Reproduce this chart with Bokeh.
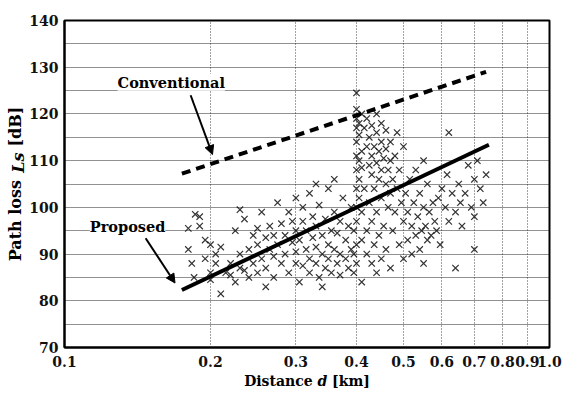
import math
from bokeh.plotting import figure
from bokeh.models import (Range1d, FixedTicker, Label, Arrow, NormalHead, ColumnDataSource)
from bokeh.embed import file_html
from bokeh.resources import INLINE

# ---------------- data ----------------
x_ticks = [0.1, 0.2, 0.3, 0.4, 0.5, 0.6, 0.7, 0.8, 0.9, 1.0]
x_tick_labels = ["0.1", "0.2", "0.3", "0.4", "0.5", "0.6", "0.7", "0.8", "0.9", "1.0"]
y_ticks = [70, 80, 90, 100, 110, 120, 130, 140]
y_grid = [75, 80, 85, 90, 95, 100, 105, 110, 115, 120, 125, 130, 135]

# measured samples (distance km, path loss dB)
meas_d = [
    0.18, 0.18, 0.183, 0.186, 0.19, 0.19, 0.195, 0.195, 0.2, 0.2, 0.2, 0.205, 0.205, 0.21, 0.21, 0.185,
    0.215, 0.22, 0.22, 0.225, 0.225, 0.23, 0.23, 0.235, 0.235, 0.24, 0.24, 0.245, 0.245, 0.25, 0.25, 0.25,
    0.255, 0.255, 0.26, 0.26, 0.265, 0.265, 0.27, 0.27, 0.27, 0.275, 0.275, 0.28, 0.28, 0.285, 0.285,
    0.29, 0.29, 0.295, 0.295, 0.3, 0.3, 0.3, 0.3, 0.23, 0.26,
    0.305, 0.305, 0.31, 0.31, 0.31, 0.315, 0.315, 0.32, 0.32, 0.32, 0.325, 0.325, 0.33, 0.33, 0.33,
    0.335, 0.335, 0.34, 0.34, 0.345, 0.345, 0.35, 0.35, 0.35, 0.355, 0.355, 0.36, 0.36, 0.365, 0.365,
    0.37, 0.37, 0.37, 0.375, 0.38, 0.38, 0.385, 0.385, 0.39, 0.39, 0.34, 0.36, 0.33,
    0.395, 0.395, 0.395, 0.4, 0.4, 0.4, 0.4, 0.4, 0.4, 0.4, 0.4, 0.4, 0.4, 0.4, 0.4,
    0.405, 0.405, 0.405, 0.405, 0.405, 0.41, 0.41, 0.41, 0.41, 0.41, 0.41,
    0.415, 0.415, 0.42, 0.42, 0.42, 0.42, 0.425, 0.425, 0.425, 0.43, 0.43, 0.43, 0.43, 0.43,
    0.435, 0.435, 0.435, 0.44, 0.44, 0.44, 0.44, 0.44, 0.445, 0.445, 0.445, 0.45, 0.45, 0.45, 0.45, 0.45,
    0.455, 0.455, 0.46, 0.46, 0.46, 0.46, 0.465, 0.465, 0.47, 0.47, 0.47, 0.47, 0.475, 0.475,
    0.48, 0.48, 0.485, 0.485, 0.49, 0.49, 0.495, 0.5, 0.5, 0.5,
    0.505, 0.51, 0.51, 0.515, 0.52, 0.52, 0.525, 0.53, 0.53, 0.535, 0.54, 0.54, 0.545, 0.55, 0.55,
    0.555, 0.56, 0.56, 0.565, 0.57, 0.575, 0.58, 0.585, 0.59, 0.595, 0.55,
    0.6, 0.61, 0.615, 0.62, 0.63, 0.64, 0.65, 0.655, 0.66, 0.67, 0.68, 0.69, 0.7, 0.7, 0.71, 0.72,
    0.73, 0.74, 0.62, 0.7, 0.64,
]
meas_loss = [
    95.5, 91, 88, 98.5, 98, 96, 93, 89, 86, 92, 84.5, 90, 88, 81.5, 91.5, 85,
    86, 85.5, 88, 84, 95, 87, 90, 86.5, 97.5, 85, 91, 88, 94, 86, 95.5, 92,
    89, 99, 87, 93.5, 91, 96, 85, 89.5, 94, 92, 101, 88, 96.5, 90, 94,
    86, 99, 92.5, 97, 88, 95, 90.5, 102, 99.5, 83,
    84, 93, 87.5, 97, 100, 91, 95, 86, 89, 103, 93.5, 98, 88, 91.5, 96,
    85, 100.5, 90, 94, 87, 97.5, 92, 89, 104, 95, 86, 91, 99, 88, 94.5,
    85.5, 90, 97, 102, 89, 93, 87, 96, 91, 100, 83, 106, 105,
    86, 90, 95, 88, 92, 97, 100, 104, 108, 111, 114, 117, 119, 121, 124.5,
    102, 106, 110, 115.5, 118, 84, 93, 99, 112, 120, 108.5,
    117, 104, 113, 119, 95, 90, 109, 115, 101, 107, 111, 117.5, 88, 97,
    113, 104, 92, 109.5, 116, 120, 86, 99, 106, 112, 94, 114, 108, 118, 102, 89,
    110.5, 96, 105, 112.5, 116.5, 91, 108, 100, 103, 110, 114, 87, 106, 95,
    111, 99, 116, 104, 92, 108, 101, 97, 89, 113,
    103, 93, 99, 106, 90, 96, 101, 94, 108, 98, 91, 103, 95, 100, 88,
    96, 93, 105, 99, 94, 101, 97, 95, 102, 92, 110,
    104, 100, 107, 97, 103, 99, 105, 101, 96, 103, 109, 100, 98, 106, 110, 104,
    101, 107, 116, 91, 87,
]

# regression lines (end points)
conv_d = [0.1746, 0.74]
conv_loss = [107.2, 129.0]
prop_d = [0.1746, 0.75]
prop_loss = [82.3, 113.4]

FONT = "DejaVu Serif"
NB = "\u00a0"

p = figure(width=562, height=395, x_axis_type="log", output_backend="svg",
           toolbar_location=None, x_range=Range1d(0.1, 1.0), y_range=Range1d(70, 140),
           min_border_left=64, min_border_right=13, min_border_top=18, min_border_bottom=48)
p.background_fill_color = "white"
p.border_fill_color = "white"
p.outline_line_color = "black"
p.outline_line_width = 2

# axes
p.xaxis.ticker = FixedTicker(ticks=x_ticks)
p.xaxis.major_label_overrides = {t: l for t, l in zip(x_ticks, x_tick_labels)}
p.yaxis.ticker = FixedTicker(ticks=y_ticks)
for ax in (p.xaxis[0], p.yaxis[0]):
    ax.axis_line_color = "black"
    ax.axis_line_width = 2
    ax.major_tick_in = 0
    ax.major_tick_out = 0
    ax.minor_tick_in = 0
    ax.minor_tick_out = 0
    ax.major_label_text_font = FONT
    ax.major_label_text_font_size = "14px"
    ax.major_label_text_font_style = "bold"
    ax.major_label_text_color = "#111111"
    ax.axis_label_text_font = FONT
    ax.axis_label_text_font_style = "bold"
    ax.axis_label_text_color = "black"
p.xaxis.major_label_standoff = 8
p.yaxis.major_label_standoff = 6
# axis titles: the italic symbol is drawn separately into the gap
p.xaxis.axis_label = "Distance" + NB * 4 + "[km]"
p.xaxis.axis_label_text_font_size = "14px"
p.xaxis.axis_label_standoff = 3
p.yaxis.axis_label = "Path loss" + NB * 6 + "[dB]"
p.yaxis.axis_label_text_font_size = "16px"
p.yaxis.axis_label_standoff = 1

# grids
p.xgrid.ticker = FixedTicker(ticks=[0.2, 0.3, 0.4, 0.5, 0.6, 0.7, 0.8, 0.9])
p.xgrid.grid_line_color = "#444444"
p.xgrid.grid_line_dash = "1 2"
p.xgrid.grid_line_width = 1
p.ygrid.ticker = FixedTicker(ticks=y_grid)
p.ygrid.grid_line_color = "#222222"
p.ygrid.grid_line_dash = "1 1"
p.ygrid.grid_line_width = 1.2

# scatter
src = ColumnDataSource(dict(d=meas_d, loss=meas_loss))
p.scatter("d", "loss", source=src, marker="x", size=9, line_color="#111111",
          line_width=1.2, line_alpha=0.85)

# lines
p.line(conv_d, conv_loss, line_color="black", line_width=4, line_dash="9 6")
p.line(prop_d, prop_loss, line_color="black", line_width=4)

# annotations
p.add_layout(Label(x=0.166, y=126.8, text="Conventional", text_font=FONT,
                   text_font_size="14.5px", text_font_style="bold", text_align="center",
                   text_baseline="middle", background_fill_color="white", text_color="black"))
p.add_layout(Label(x=0.1349, y=96.0, text="Proposed", text_font=FONT,
                   text_font_size="14.5px", text_font_style="bold", text_align="center",
                   text_baseline="middle", background_fill_color="white", text_color="black"))
p.add_layout(Arrow(end=NormalHead(size=9, fill_color="black", line_color="black"),
                   x_start=0.182, y_start=124.0, x_end=0.2019, y_end=111.3,
                   line_color="black", line_width=2))
p.add_layout(Arrow(end=NormalHead(size=9, fill_color="black", line_color="black"),
                   x_start=0.147, y_start=93.4, x_end=0.169, y_end=83.8,
                   line_color="black", line_width=2))

# italic symbols (canvas units, kept in side panels with spare room)
p.add_layout(Label(x=322, y=380.5, x_units="canvas", y_units="canvas", text="d",
                   text_font=FONT, text_font_size="14px", text_font_style="bold italic",
                   text_align="center", text_baseline="middle", text_color="black"), "right")
p.add_layout(Label(x=17.5, y=162, x_units="canvas", y_units="canvas", text="Ls",
                   text_font=FONT, text_font_size="16px", text_font_style="bold italic",
                   text_align="center", text_baseline="middle", angle=math.pi / 2,
                   text_color="black"), "above")

open("out.html", "w").write(file_html(p, INLINE))
